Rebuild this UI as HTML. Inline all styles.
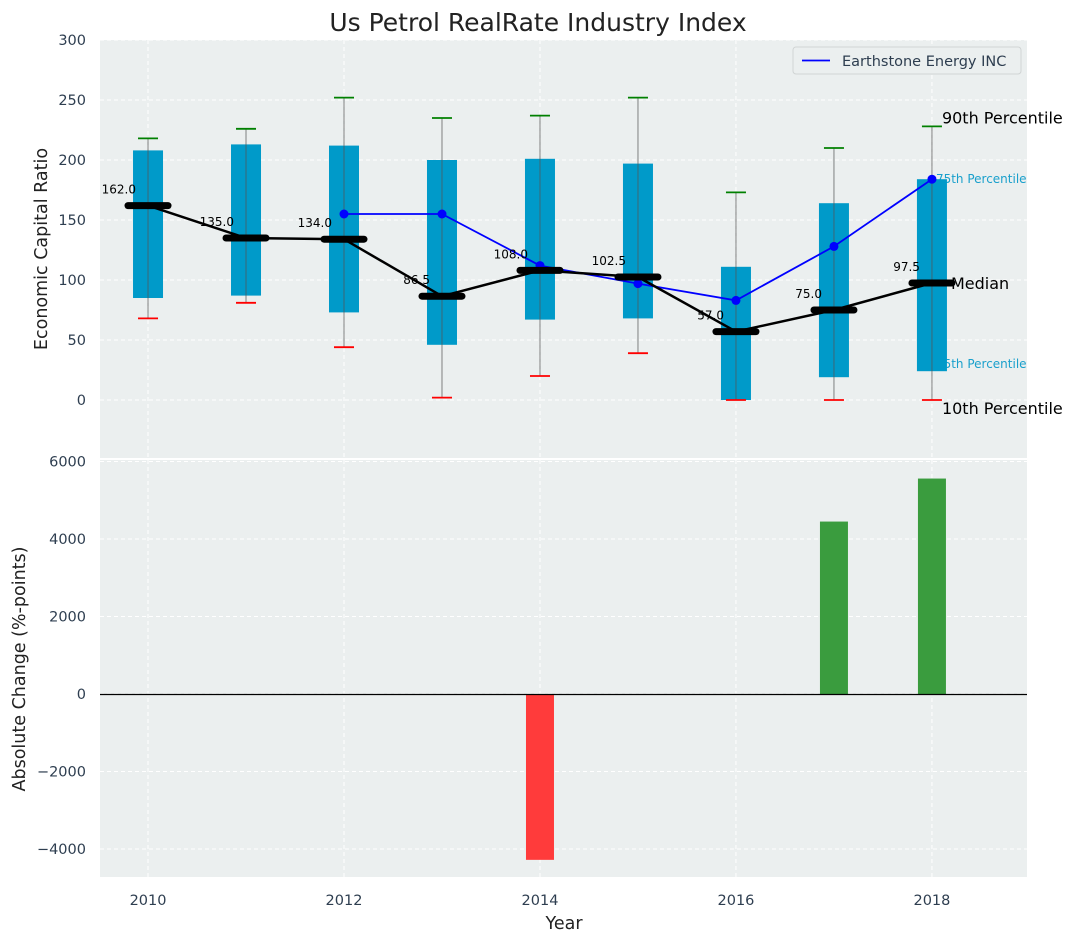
<!DOCTYPE html>
<html><head><meta charset="utf-8"><style>
body{margin:0;background:#fff;font-family:"Liberation Sans","DejaVu Sans",sans-serif}
svg text{font-family:"DejaVu Sans","Liberation Sans",sans-serif}
</style></head><body>
<svg id="c" width="1077" height="942" xmlns="http://www.w3.org/2000/svg"></svg>
<script>
const years=[2010,2011,2012,2013,2014,2015,2016,2017,2018];
const q3=[208,213,212,200,201,197,111,164,184];
const q1=[85,87,73,46,67,68,0,19,24];
const p90=[218,226,252,235,237,252,173,210,228];
const p10=[68,81,44,2,20,39,0,0,0];
const medians=[162,135,134,86.5,108,102.5,57,75,97.5];
const companyYears=[2012,2013,2014,2015,2016,2017,2018];
const companyVals=[155,155,112,97,83,128,184];
const changeYears=[2014,2017,2018];
const changeVals=[-4280,4450,5560];
const topTicks=[0,50,100,150,200,250,300];
const botTicks=[-4000,-2000,0,2000,4000,6000];
const xTicks=[2010,2012,2014,2016,2018];

const NS="http://www.w3.org/2000/svg";
const svg=document.getElementById('c');
function el(t,a,p){const e=document.createElementNS(NS,t);for(const k in a)e.setAttribute(k,a[k]);(p||svg).appendChild(e);return e;}
const L=100,R=1027;
const x=v=>L+(v-2009.51)*(R-L)/(2018.97-2009.51);
const yT=v=>40+(300-v)*1.2;
const yB=v=>694-v*0.03875;
const T0=40,T1=458,B0=460,B1=877;

let e=el('rect',{x:L,y:T0,width:R-L,height:T1-T0,fill:'#ebefef'});

e=el('rect',{x:L,y:B0,width:R-L,height:B1-B0,fill:'#ebefef'});


topTicks.forEach(t=>{el('line',{x1:L,x2:R,y1:yT(t),y2:yT(t),stroke:'#fff','stroke-dasharray':'4,3'});
 const tx=el('text',{x:L-14,y:yT(t)+5,'text-anchor':'end','font-size':14.5,fill:'#2e3e50'});tx.textContent=t;
 });
botTicks.forEach(t=>{el('line',{x1:L,x2:R,y1:yB(t),y2:yB(t),stroke:'#fff','stroke-dasharray':'4,3'});
 const tx=el('text',{x:L-14,y:yB(t)+5,'text-anchor':'end','font-size':14.5,fill:'#2e3e50'});tx.textContent=t===0?'0':(t<0?'\u2212'+(-t):t);
 });
xTicks.forEach(t=>{el('line',{x1:x(t),x2:x(t),y1:T0,y2:T1,stroke:'#fff','stroke-dasharray':'4,3'});
 el('line',{x1:x(t),x2:x(t),y1:B0,y2:B1,stroke:'#fff','stroke-dasharray':'4,3'});
 const tx=el('text',{x:x(t),y:905,'text-anchor':'middle','font-size':14.5,fill:'#2e3e50'});tx.textContent=t;
 });

const last=years.length-1, xl=x(years[last]);
e=el('text',{x:xl+4,y:yT(q3[last])+4,'font-size':12,fill:'#1aa0cc'});e.textContent='75th Percentile';

e=el('text',{x:xl+4,y:yT(q1[last])-3,'font-size':12,fill:'#1aa0cc'});e.textContent='25th Percentile';


years.forEach((yr,i)=>{
 const cx=x(yr);
 let b=el('rect',{x:cx-15,y:yT(q3[i]),width:30,height:yT(q1[i])-yT(q3[i]),fill:'#009ac9'});
 
 let w=el('line',{x1:cx,x2:cx,y1:yT(p90[i]),y2:yT(p10[i]),stroke:'#555','stroke-opacity':0.6,'stroke-width':1.2});
 
 let g=el('line',{x1:cx-10,x2:cx+10,y1:yT(p90[i]),y2:yT(p90[i]),stroke:'#008000','stroke-width':1.8});
 
 let r=el('line',{x1:cx-10,x2:cx+10,y1:yT(p10[i]),y2:yT(p10[i]),stroke:'#ff0000','stroke-width':1.8});
 
});

let pts=companyYears.map((y,i)=>x(y)+','+yT(companyVals[i])).join(' ');
e=el('polyline',{points:pts,fill:'none',stroke:'#0000ff','stroke-width':1.8});

companyYears.forEach((y,i)=>{const c=el('circle',{cx:x(y),cy:yT(companyVals[i]),r:4.5,fill:'#0000ff'});
 });

pts=years.map((y,i)=>x(y)+','+yT(medians[i])).join(' ');
e=el('polyline',{points:pts,fill:'none',stroke:'#000','stroke-width':2.5});

years.forEach((y,i)=>{const cx=x(y),cy=yT(medians[i]);
 const m=el('line',{x1:cx-20,x2:cx+20,y1:cy,y2:cy,stroke:'#000','stroke-width':7,'stroke-linecap':'round'});
 
 const t=el('text',{x:cx-12,y:cy-12,'text-anchor':'end','font-size':12,fill:'#000'});t.textContent=medians[i].toFixed(1);
 });

e=el('text',{x:xl+10,y:yT(p90[last])-3,'font-size':16,fill:'#000'});e.textContent='90th Percentile';

e=el('text',{x:xl+19,y:yT(medians[last])+6,'font-size':16,fill:'#000'});e.textContent='Median';

e=el('text',{x:xl+10,y:yT(p10[last])+14,'font-size':16,fill:'#000'});e.textContent='10th Percentile';


e=el('rect',{x:793,y:47,width:228,height:27,rx:3,fill:'#ebefef',stroke:'#d0d4d4'});

el('line',{x1:802,x2:830,y1:60.5,y2:60.5,stroke:'#0000ff','stroke-width':1.8});
e=el('text',{x:842,y:66,'font-size':14.5,fill:'#2e3e50'});e.textContent='Earthstone Energy INC';


changeYears.forEach((y,i)=>{const v=changeVals[i];
 const b=el('rect',{x:x(y)-14,y:Math.min(yB(v),yB(0)),width:28,height:Math.abs(yB(v)-yB(0)),fill:v<0?'#ff3b3b':'#3a9c3e'});
 });
const zy=Math.round(yB(0))+0.5;
e=el('line',{x1:L,x2:R,y1:zy,y2:zy,stroke:'#000','stroke-width':1.2});


e=el('text',{x:538,y:31,'text-anchor':'middle','font-size':25,fill:'#222'});e.textContent='Us Petrol RealRate Industry Index';

e=el('text',{x:47,y:249,'text-anchor':'middle','font-size':17.5,fill:'#222',transform:'rotate(-90 47 249)'});e.textContent='Economic Capital Ratio';

e=el('text',{x:25,y:669,'text-anchor':'middle','font-size':17.5,fill:'#222',transform:'rotate(-90 25 669)'});e.textContent='Absolute Change (%-points)';

e=el('text',{x:564,y:929,'text-anchor':'middle','font-size':17.5,fill:'#222'});e.textContent='Year';

</script>
</body></html>
